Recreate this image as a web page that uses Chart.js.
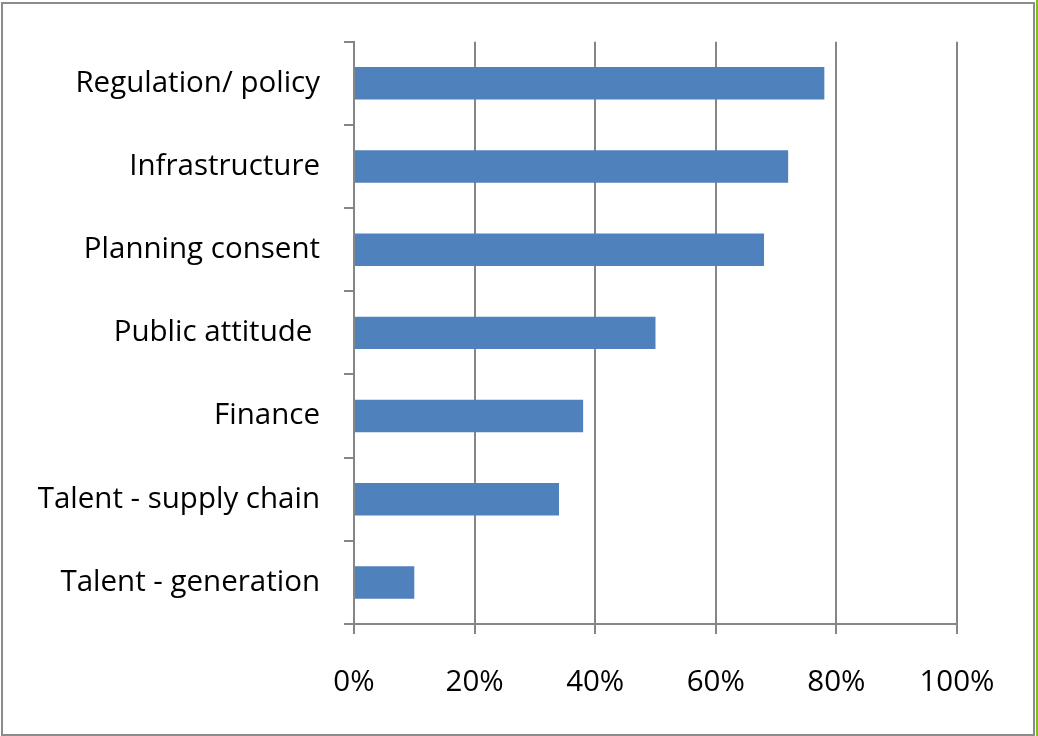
<!DOCTYPE html>
<html>
<head>
<meta charset="utf-8">
<script src="https://cdn.jsdelivr.net/npm/chart.js@4"></script>
<style>
  html, body { margin: 0; padding: 0; background: #fff; }
  #wrap { width: 1038px; height: 736px; position: relative; }
</style>
</head>
<body>
<div id="wrap"><canvas id="c" width="1038" height="736"></canvas></div>
<script>
const categories = ["Regulation/ policy", "Infrastructure", "Planning consent", "Public attitude ", "Finance", "Talent - supply chain", "Talent - generation"];
const values = [0.78, 0.72, 0.68, 0.50, 0.38, 0.34, 0.10];
const xTicks = [0, 0.2, 0.4, 0.6, 0.8, 1.0];

const frame = {
  id: 'frame',
  afterDraw(chart) {
    const ctx = chart.ctx;
    ctx.save();
    ctx.strokeStyle = '#8c8c8c';
    ctx.lineWidth = 2;
    ctx.strokeRect(2, 3, 1032, 732);
    ctx.fillStyle = '#7dc21e';
    ctx.fillRect(1036, 0, 2, 736);
    ctx.restore();
  }
};

const FONT = "'Open Sans', Lato, sans-serif";
new Chart(document.getElementById('c'), {
  type: 'bar',
  data: {
    labels: categories,
    datasets: [{
      data: values,
      backgroundColor: '#4f81bd',
      borderWidth: 0,
      categoryPercentage: 1,
      barPercentage: 0.39
    }]
  },
  options: {
    indexAxis: 'y',
    responsive: false,
    animation: false,
    layout: { padding: { left: 0, top: 40, right: 81, bottom: 0 } },
    plugins: { legend: { display: false }, tooltip: { enabled: false } },
    scales: {
      x: {
        min: 0, max: 1,
        afterBuildTicks(scale) { scale.ticks = xTicks.map(v => ({ value: v })); },
        afterFit(scale) { scale.height = 112; },
        ticks: {
          callback: v => Math.round(v * 100) + '%',
          color: '#000',
          font: { family: FONT, size: 29.5 },
          padding: 31
        },
        grid: { color: '#868686', lineWidth: 2, tickLength: 10, drawTicks: true },
        border: { color: '#868686', width: 2 }
      },
      y: {
        afterFit(scale) { scale.width = 354; },
        ticks: {
          color: '#000',
          font: { family: FONT, size: 29.5 },
          padding: 24
        },
        grid: { drawOnChartArea: false, color: '#868686', lineWidth: 2, tickLength: 10, offset: true },
        border: { color: '#868686', width: 2 }
      }
    }
  },
  plugins: [frame]
});
</script>
</body>
</html>
